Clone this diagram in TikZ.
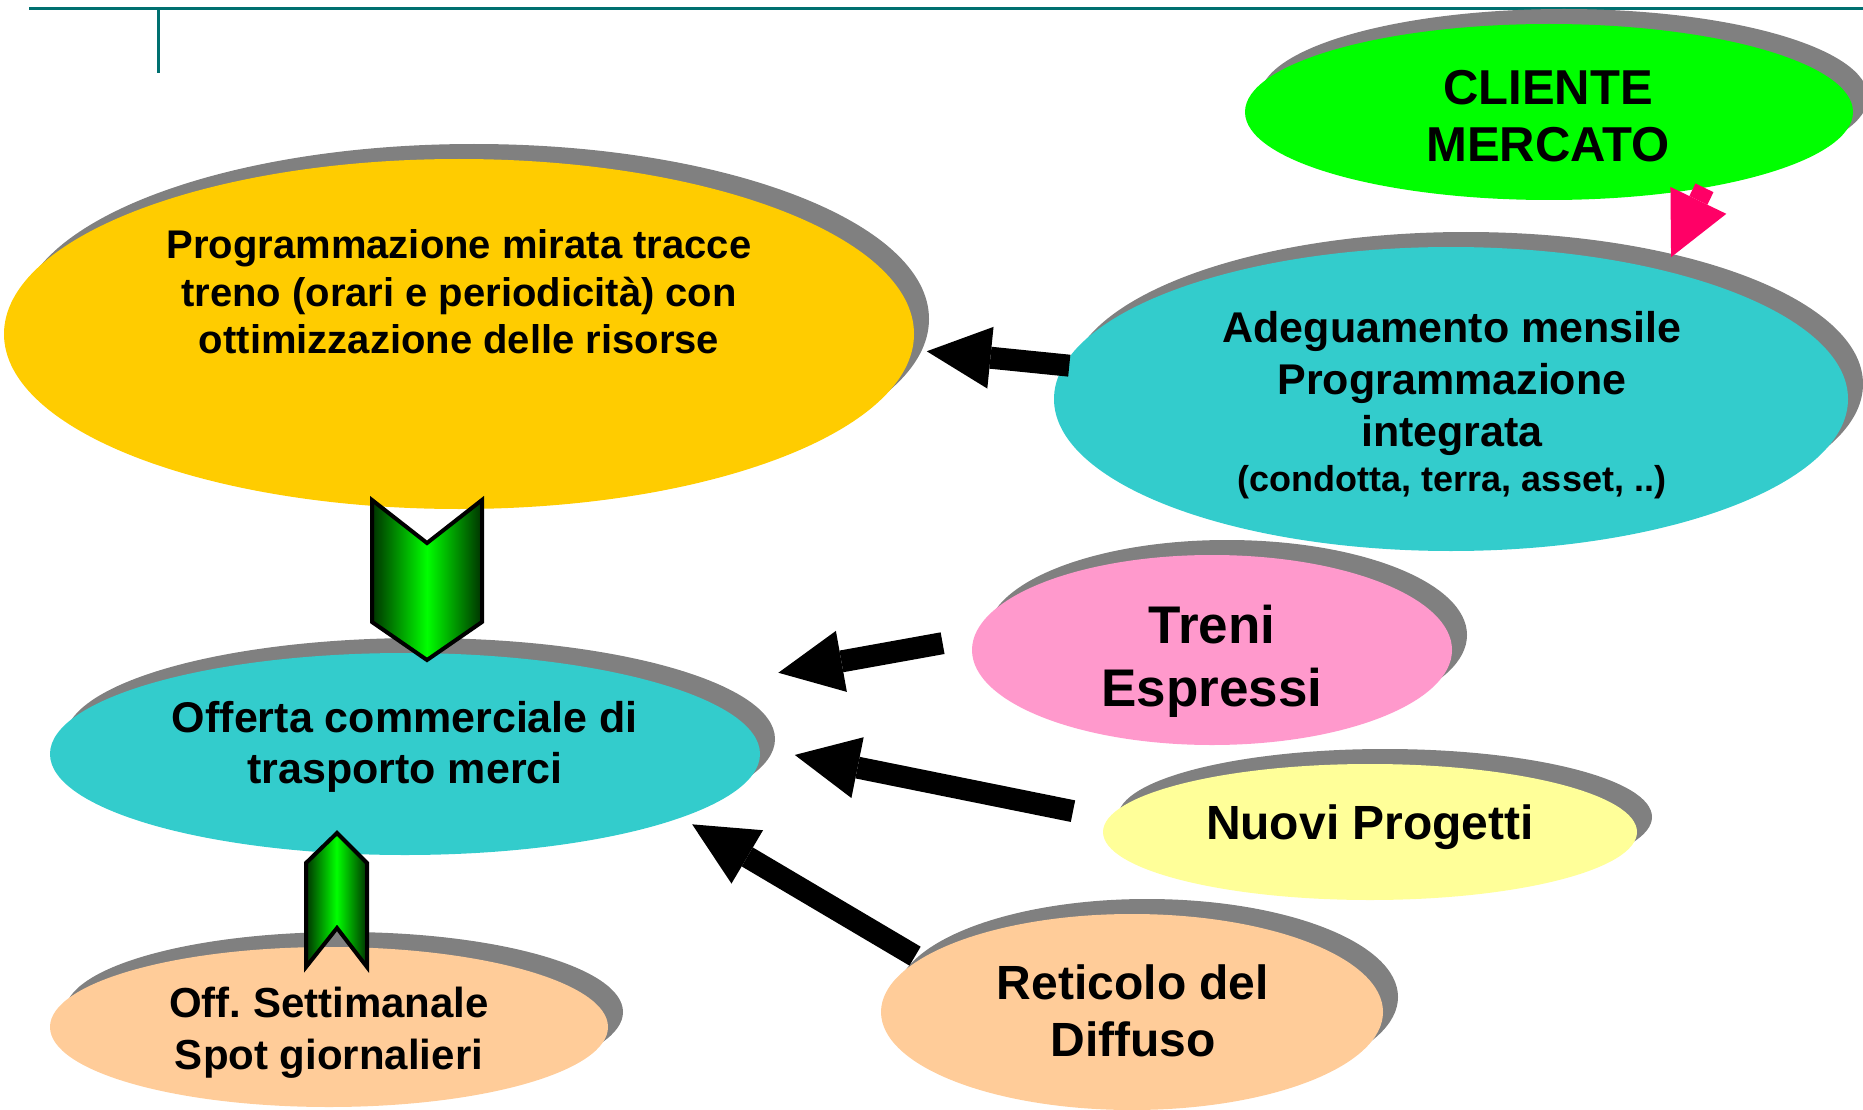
\documentclass[tikz,border=0pt]{standalone}
\usepackage{fontspec}
\setmainfont{Liberation Sans}
\usetikzlibrary{shapes.geometric, shadows, arrows.meta}

\definecolor{gold}{HTML}{FFCC00}
\definecolor{lime}{HTML}{00FF00}
\definecolor{aqua}{HTML}{33CCCC}
\definecolor{rosa}{HTML}{FF99CC}
\definecolor{paleyellow}{HTML}{FFFF99}
\definecolor{peach}{HTML}{FFCC99}
\definecolor{shadowgray}{HTML}{808080}
\definecolor{magentared}{HTML}{FF0066}
\definecolor{rule}{HTML}{007070}
\definecolor{chevdark}{HTML}{003300}

\begin{document}
\begin{tikzpicture}[x=1pt, y=-1pt]

  % Styles for bubbles, labels and arrows
  \tikzset{
    bubble/.style={
      ellipse, inner sep=0pt, fill=#1,
      drop shadow={shadow xshift=15pt, shadow yshift=15pt, fill=shadowgray, opacity=1}
    },
    txt/.style={align=center, inner sep=0pt},
    fat/.style={
      line width=22pt,
      -{Triangle[length=64pt, width=62pt, line width=0pt]}
    },
    chevron/.style={
      draw=black, line width=4pt, line join=miter,
      left color=chevdark, right color=chevdark, middle color=lime
    }
  }

  \useasboundingbox (0,0) rectangle (1863,1110);

  % Title rule
  \draw[rule, line width=3pt] (29,9) -- (1863,9);
  \draw[rule, line width=3pt] (158,9) -- (158,73);

  % Bubbles
  \node[bubble=lime, minimum width=608pt, minimum height=176pt] (cliente) at (1549,112) {};
  \node[bubble=gold, minimum width=910pt, minimum height=350pt] (prog) at (459,334) {};
  \node[bubble=aqua, minimum width=794pt, minimum height=304pt] (adeg) at (1451,399) {};
  \node[bubble=rosa, minimum width=480pt, minimum height=190pt] (treni) at (1212,650) {};
  \node[bubble=aqua, minimum width=710pt, minimum height=202pt] (offerta) at (405,754) {};
  \node[bubble=paleyellow, minimum width=534pt, minimum height=136pt] (nuovi) at (1370,832) {};
  \node[bubble=peach, minimum width=502pt, minimum height=196pt] (reticolo) at (1132,1012) {};
  \node[bubble=peach, minimum width=558pt, minimum height=160pt] (settimanale) at (329,1027) {};

  % Labels
  \node[txt, font=\fontsize{49}{57}\selectfont\bfseries] (clientetxt) at (1548,116) {CLIENTE\\MERCATO};
  \node[txt, font=\fontsize{40}{47.5}\selectfont\bfseries] (progtxt) at (459,292)
    {Programmazione mirata tracce\\treno (orari e periodicità) con\\ottimizzazione delle risorse};
  \node[txt, font=\fontsize{43}{52}\selectfont\bfseries] (adegtxt) at (1452,405)
    {Adeguamento mensile\\Programmazione\\integrata\\[-7pt]{\fontsize{36}{46}\selectfont(condotta, terra, asset, ..)}};
  \node[txt, font=\fontsize{53}{63}\selectfont\bfseries] (trenitxt) at (1212,661) {Treni\\Espressi};
  \node[txt, font=\fontsize{43}{51}\selectfont\bfseries] (offertatxt) at (405,747) {Offerta commerciale di\\trasporto merci};
  \node[txt, font=\fontsize{48}{56}\selectfont\bfseries] (nuovitxt) at (1370,827) {Nuovi Progetti};
  \node[txt, font=\fontsize{48}{57}\selectfont\bfseries] (reticolotxt) at (1133,1011) {Reticolo del\\Diffuso};
  \node[txt, font=\fontsize{42}{52}\selectfont\bfseries] (settimanaletxt) at (329,1033) {Off.\ Settimanale\\Spot giornalieri};

  % Black arrows
  \draw[fat, shorten <=-5.5pt, shorten >=14.5pt] (adeg.175.9) -- (prog.358.3);
  \draw[fat, shorten <=31.8pt, shorten >=99pt] (treni.177.6) -- (offerta.13.5);
  \draw[fat, shorten <=36pt, shorten >=36pt] (nuovi.177) -- (offerta.1.5);
  \draw[fat, shorten <=6pt, shorten >=13pt] (reticolo.166.7) -- (offerta.347.7);

  % Pink arrow
  \draw[magentared, line width=20pt, -{Triangle[length=63pt, width=62pt, line width=0pt]},
    shorten >=15pt] (cliente.334.2) -- (adeg.31.2);

  % Green chevrons
  \draw[chevron] (372,500) -- (427,543) -- (482,500) -- (482,622) -- (427,660) -- (372,622) -- cycle;
  \draw[chevron] (337,833) -- (367,863) -- (367,967) -- (337,928) -- (306,967) -- (306,863) -- cycle;

\end{tikzpicture}
\end{document}
